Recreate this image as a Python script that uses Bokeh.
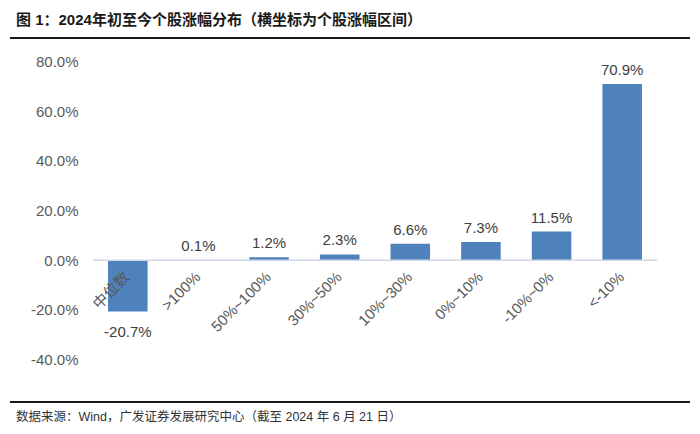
import math
from bokeh.plotting import figure
from bokeh.layouts import column
from bokeh.models import (FactorRange, Range1d, FixedTicker, PrintfTickFormatter,
                          ColumnDataSource, Span, Div)
from bokeh.core.properties import value
from bokeh.embed import file_html
from bokeh.resources import INLINE

categories = ["中位数", ">100%", "50%~100%", "30%~50%", "10%~30%", "0%~10%", "-10%~0%", "<-10%"]
values = [-20.7, 0.1, 1.2, 2.3, 6.6, 7.3, 11.5, 70.9]
y_ticks = [-40, -20, 0, 20, 40, 60, 80]
title_text = "图 1：2024年初至今个股涨幅分布（横坐标为个股涨幅区间）"
footer_text = "数据来源：Wind，广发证券发展研究中心（截至 2024 年 6 月 21 日）"

FONT = "Liberation Sans, Noto Sans CJK SC"
CSS_FONT = "'Liberation Sans','Noto Sans CJK SC',sans-serif"
BAR = "#4f81bd"
GRAY = "#595959"
W = 692

# ---- title block ----
top = Div(width=W, height=40, margin=0, text=(
    f'<div style="position:relative;width:{W}px;height:40px;margin:0;padding:0;">'
    f'<div style="position:absolute;left:16px;top:10px;line-height:20px;white-space:nowrap;'
    f'font-family:{CSS_FONT};font-size:15px;font-weight:bold;color:#1a1a1a;">{title_text}</div>'
    f'<div style="position:absolute;left:10px;top:37px;width:680px;height:2px;background:#1a1a1a;"></div>'
    f'</div>'))

# ---- main chart ----
p = figure(width=W, height=350, output_backend="svg", toolbar_location=None,
           x_range=FactorRange(factors=categories, range_padding=0),
           y_range=Range1d(-44.4, 84.4),
           min_border_left=92, min_border_right=35, min_border_top=10, min_border_bottom=20)
p.outline_line_color = None
p.xgrid.visible = False
p.ygrid.visible = False
p.xaxis.visible = False

ya = p.yaxis[0]
ya.ticker = FixedTicker(ticks=y_ticks)
ya.formatter = PrintfTickFormatter(format="%.1f%%")
ya.axis_line_color = None
ya.major_tick_line_color = None
ya.minor_tick_line_color = None
ya.major_tick_out = 0
ya.major_tick_in = 0
ya.major_label_text_font = FONT
ya.major_label_text_font_size = "15px"
ya.major_label_text_color = GRAY
ya.major_label_standoff = 14

src = ColumnDataSource(dict(x=categories, top=values, zero=[0] * len(values)))
p.vbar(x="x", top="top", bottom=0, width=0.56, source=src, fill_color=BAR, line_color=None)

p.add_layout(Span(location=0, dimension="width", line_color="#d0d7e5", line_width=1.5))

pos = [i for i, v in enumerate(values) if v >= 0]
neg = [i for i, v in enumerate(values) if v < 0]
psrc = ColumnDataSource(dict(x=[categories[i] for i in pos], y=[values[i] for i in pos],
                             t=[f"{values[i]:.1f}%" for i in pos]))
nsrc = ColumnDataSource(dict(x=[categories[i] for i in neg], y=[values[i] for i in neg],
                             t=[f"{values[i]:.1f}%" for i in neg]))
p.text(x="x", y="y", text="t", source=psrc, text_align="center", text_baseline="bottom",
       y_offset=-6, text_font=value(FONT), text_font_size="15px", text_color="#404040")
p.text(x="x", y="y", text="t", source=nsrc, text_align="center", text_baseline="top",
       y_offset=11, text_font=value(FONT), text_font_size="15px", text_color="#404040")

# category labels along the zero line
p.text(x="x", y="zero", text="x", source=src, angle=math.pi / 4, text_align="right",
       text_baseline="middle", x_offset=-1, y_offset=14, text_font=value(FONT),
       text_font_size="15px", text_color=GRAY)

# ---- footer block ----
bot = Div(width=W, height=36, margin=0, text=(
    f'<div style="position:relative;width:{W}px;height:36px;margin:0;padding:0;">'
    f'<div style="position:absolute;left:10px;top:11px;width:680px;height:2px;background:#1a1a1a;"></div>'
    f'<div style="position:absolute;left:16px;top:19px;line-height:16px;white-space:nowrap;'
    f'font-family:{CSS_FONT};font-size:12.5px;color:#333333;">{footer_text}</div>'
    f'</div>'))

layout = column(top, p, bot, spacing=0)
open("out.html", "w").write(file_html(layout, INLINE))
